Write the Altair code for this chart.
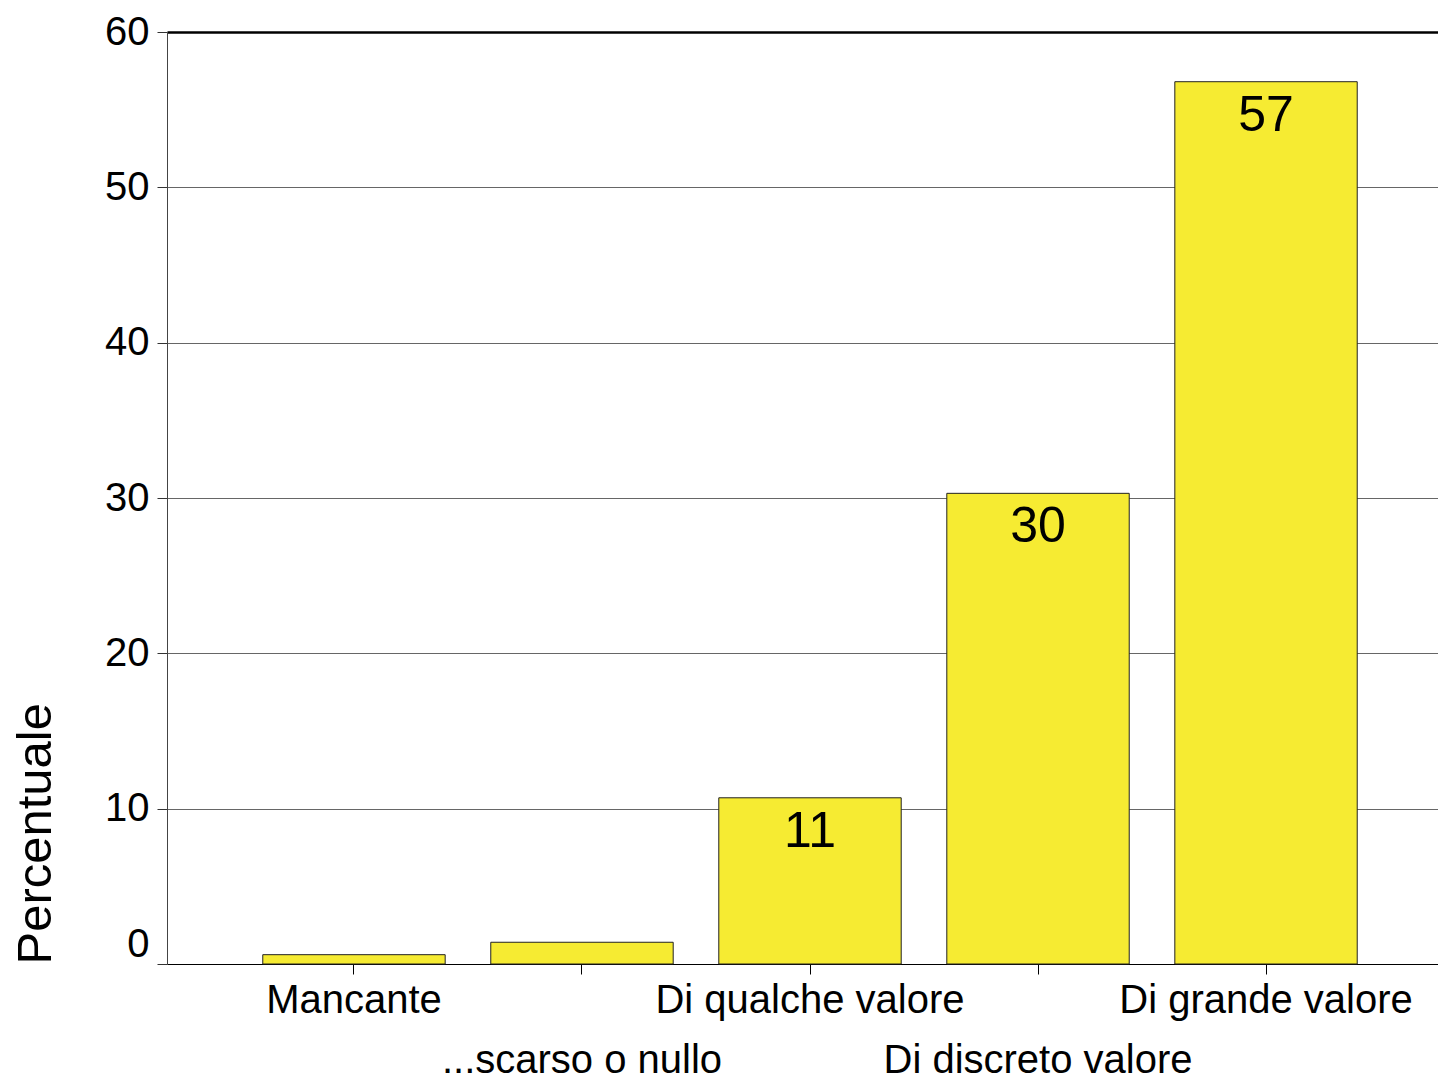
import altair as alt
import pandas as pd

categories = ["Mancante", "...scarso o nullo", "Di qualche valore", "Di discreto valore", "Di grande valore"]
values = [0.6, 1.4, 10.7, 30.3, 56.8]
bar_labels = ["", "", "11", "30", "57"]
y_ticks = [0, 10, 20, 30, 40, 50, 60]

df = pd.DataFrame({"cat": categories, "val": values, "lab": bar_labels})

FONT = "Liberation Sans"
second_row = [categories[1], categories[3]]
row_list = "[" + ",".join("'" + c + "'" for c in second_row) + "]"

x_scale = alt.Scale(paddingInner=0.2, paddingOuter=0.42, range=[0, 1286])

x_enc = alt.X(
    "cat:N",
    sort=categories,
    scale=x_scale,
    axis=alt.Axis(
        title=None,
        labelAngle=0,
        labelFont=FONT,
        labelFontSize=40,
        labelColor="black",
        labelLineHeight=60,
        labelPadding=6,
        labelLimit=600,
        tickSize=10,
        tickColor="black",
        domainColor="black",
        labelExpr="indexof(" + row_list + ", datum.value) >= 0 ? ['', datum.label] : datum.label",
    ),
)

y_enc = alt.Y(
    "val:Q",
    scale=alt.Scale(domain=[0, 60], nice=False),
    axis=alt.Axis(
        values=y_ticks,
        title="Percentuale",
        titleFont=FONT,
        titleFontSize=49,
        titleFontWeight="normal",
        titleColor="black",
        titleAnchor="start",
        titlePadding=44,
        labelFont=FONT,
        labelFontSize=40,
        labelColor="black",
        labelPadding=8,
        labelBaseline={"condition": {"test": "datum.value === 0", "value": "bottom"}, "value": "middle"},
        tickSize=10,
        tickColor="#333",
        domainColor="#444",
        grid=True,
        gridColor={"condition": {"test": "datum.value === 60", "value": "black"}, "value": "#666"},
        gridWidth={"condition": {"test": "datum.value === 60", "value": 2.5}, "value": 1},
    ),
)

bars = alt.Chart(df).mark_bar(color="#F6EB32", stroke="#222", strokeWidth=1).encode(x=x_enc, y=y_enc)

texts = alt.Chart(df).mark_text(
    font=FONT, fontSize=50, color="black", baseline="alphabetic", dy=49
).encode(x=alt.X("cat:N", sort=categories, scale=x_scale), y=alt.Y("val:Q"), text="lab:N")

chart = (
    alt.layer(bars, texts)
    .properties(
        width=1271,
        height=932,
        autosize=alt.AutoSizeParams(type="none"),
        padding={"left": 159, "top": 24, "right": 0, "bottom": 111},
    )
    .configure_view(strokeWidth=0)
    .configure(background="white")
)

chart.save("out.html", embed_options={"renderer": "svg", "actions": False})
